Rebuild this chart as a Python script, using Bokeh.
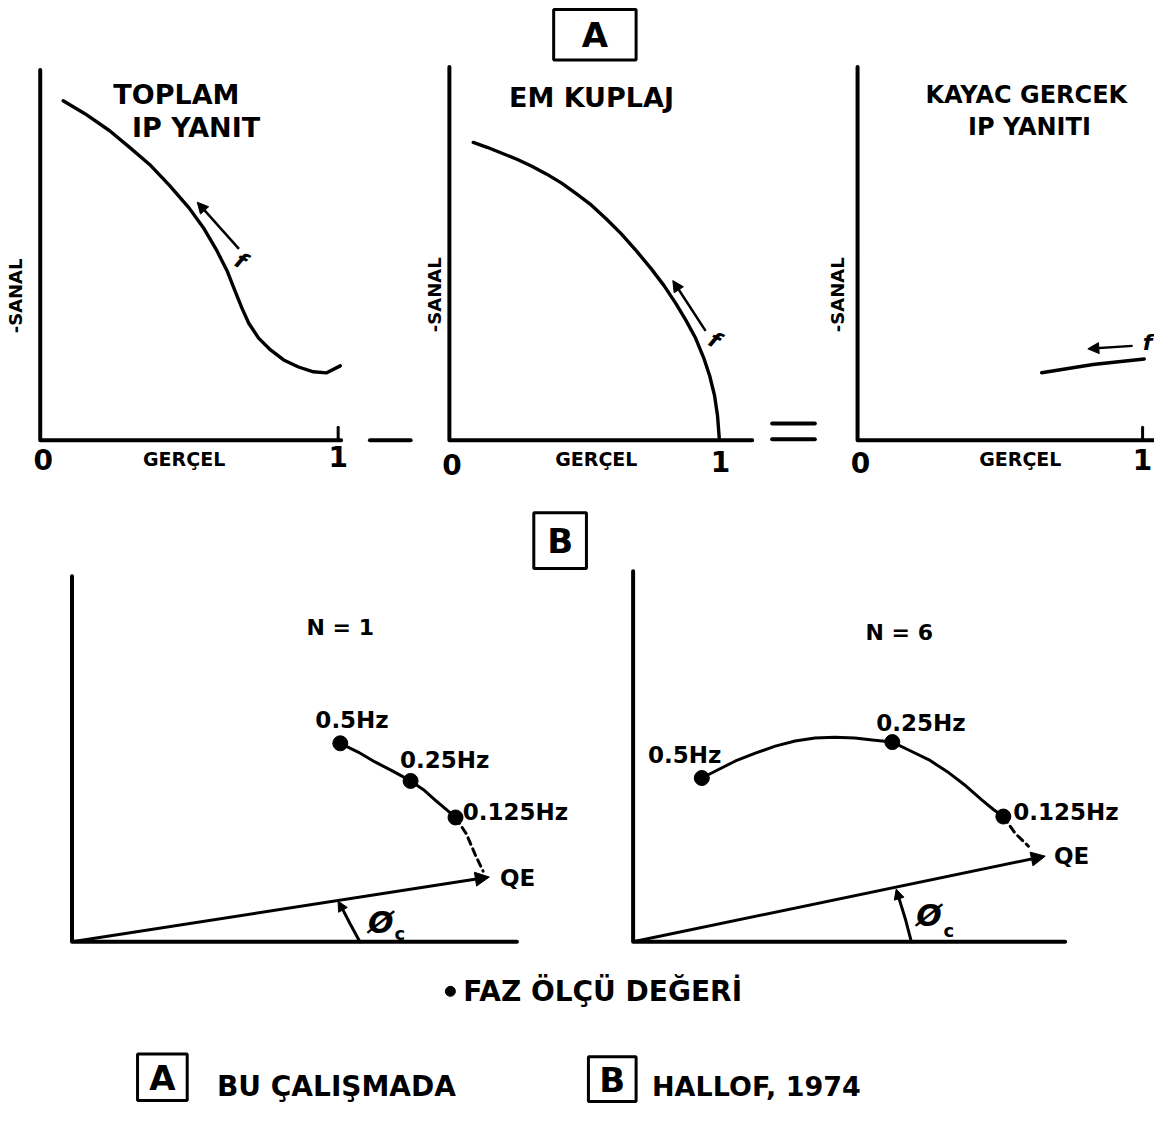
import math
from bokeh.plotting import figure
from bokeh.models import Range1d, Arrow, NormalHead
from bokeh.core.properties import value
from bokeh.embed import file_html
from bokeh.resources import INLINE

FONT = "DejaVu Sans"

# ---------------- data : panel A (x = real part, y = -imaginary part, normalised) ----------------
toplam_re = [0.077, 0.150, 0.233, 0.300, 0.367, 0.433, 0.500, 0.550, 0.593, 0.627, 0.653, 0.677,
             0.700, 0.733, 0.773, 0.817, 0.867, 0.917, 0.960, 1.007]
toplam_im = [0.917, 0.882, 0.836, 0.791, 0.745, 0.689, 0.627, 0.571, 0.512, 0.458, 0.405, 0.357,
             0.316, 0.276, 0.244, 0.217, 0.198, 0.185, 0.182, 0.201]
em_re = [0.088, 0.139, 0.194, 0.249, 0.304, 0.359, 0.414, 0.469, 0.524, 0.579, 0.634, 0.689,
         0.744, 0.791, 0.835, 0.872, 0.908, 0.938, 0.960, 0.978, 0.989, 0.996]
em_im = [0.798, 0.785, 0.769, 0.753, 0.734, 0.713, 0.689, 0.660, 0.630, 0.593, 0.553, 0.508,
         0.460, 0.415, 0.367, 0.322, 0.274, 0.221, 0.173, 0.120, 0.066, 0.000]
kayac_re = [0.646, 0.826, 1.006]
kayac_im = [0.181, 0.203, 0.218]

a_titles = [["TOPLAM", "IP YANIT"], ["EM KUPLAJ"], ["KAYAC GERCEK", "IP YANITI"]]
x_label = "GERÇEL"
y_label = "-SANAL"
x_tick_labels = ["0", "1"]
freq_symbol = "f"

# ---------------- data : panel B (phase measurements) ----------------
freq_labels = ["0.5Hz", "0.25Hz", "0.125Hz"]
n1_re = [0.603, 0.761, 0.862]
n1_im = [0.543, 0.440, 0.340]
n1_path_re = [0.603, 0.643, 0.681, 0.721, 0.761, 0.790, 0.815, 0.839, 0.862]
n1_path_im = [0.543, 0.519, 0.492, 0.467, 0.440, 0.416, 0.389, 0.364, 0.340]
n1_dash_re = [0.862, 0.886, 0.906, 0.924]
n1_dash_im = [0.340, 0.296, 0.239, 0.193]
n1_qe = (0.938, 0.177)

n6_re = [0.159, 0.600, 0.857]
n6_im = [0.442, 0.539, 0.338]
n6_path_re = [0.159, 0.191, 0.237, 0.283, 0.329, 0.375, 0.421, 0.467, 0.513, 0.559, 0.600,
              0.639, 0.685, 0.731, 0.770, 0.807, 0.834, 0.857]
n6_path_im = [0.442, 0.461, 0.488, 0.509, 0.528, 0.542, 0.550, 0.552, 0.550, 0.544, 0.539,
              0.517, 0.491, 0.456, 0.421, 0.383, 0.357, 0.338]
n6_dash_re = [0.857, 0.885, 0.915]
n6_dash_im = [0.338, 0.292, 0.258]
n6_qe = (0.954, 0.231)

b_titles = ["N = 1", "N = 6"]
qe_label = "QE"
phase_symbol = "Ø"
phase_sub = "c"
legend_text = "FAZ ÖLÇÜ DEĞERİ"
source_labels = [("A", "BU ÇALIŞMADA"), ("B", "HALLOF, 1974")]

# ---------------- canvas ----------------
W, H = 1154, 1106
SX, SY = 1162, 1114          # extent of the drawing (reference pixels) mapped onto the canvas
p = figure(width=W, height=H, x_range=Range1d(0, SX), y_range=Range1d(SY, 0),
           output_backend="svg", toolbar_location=None, min_border=0,
           x_axis_location=None, y_axis_location=None)
p.grid.visible = False
p.outline_line_color = None
p.background_fill_color = "white"
p.border_fill_color = "white"

# panel frames : origin (reference px) and unit lengths (px)
frames = {
    "a1": (40, 443, 300, 373),
    "a2": (452, 443, 273, 376),
    "a3": (863, 443, 287, 376),
    "b1": (72, 948, 448, 368),
    "b2": (637, 948, 435, 373),
}
for name, (ox, oy, ux, uy) in frames.items():
    p.extra_x_ranges[name] = Range1d((0 - ox) / ux, (SX - ox) / ux)
    p.extra_y_ranges[name] = Range1d((oy - SY) / uy, (oy - 0) / uy)


def rn(name):
    return {} if name is None else dict(x_range_name=name, y_range_name=name)


def line(xs, ys, name=None, w=3.0, dash="solid"):
    p.line(xs, ys, line_color="black", line_width=w, line_dash=dash,
           line_join="round", line_cap="round", **rn(name))


def txt(x, y, s, size, name=None, align="center", angle=0.0, style="bold"):
    p.text(x=[x], y=[y], text=[s], angle=angle, text_font=value(FONT),
           text_font_style=style, text_font_size=f"{size}px", text_align=align,
           text_baseline="middle", text_color="black", **rn(name))


def arrow(x0, y0, x1, y1, name, w=2.5, size=12):
    p.add_layout(Arrow(end=NormalHead(size=size, fill_color="black", line_color="black", line_width=1),
                       x_start=x0, y_start=y0, x_end=x1, y_end=y1,
                       line_color="black", line_width=w, **rn(name)))


# ---------------- panel A ----------------
a_curves = [("a1", toplam_re, toplam_im), ("a2", em_re, em_im), ("a3", kayac_re, kayac_im)]
a_xaxis_end = {"a1": 1.01, "a2": 1.117, "a3": 1.05}
a_title_pos = {"a1": [(0.457, 0.933), (0.523, 0.845)], "a2": [(0.524, 0.918)],
               "a3": [(0.592, 0.926), (0.603, 0.838)]}
a_title_size = {"a1": 27, "a2": 27, "a3": 24}
a_ylabel_x = {"a1": -0.083, "a2": -0.055, "a3": -0.07}
a_zero_y = {"a1": -0.051, "a2": -0.064, "a3": -0.059}
a_xlabel_x = {"a1": 0.483, "a2": 0.542, "a3": 0.571}
a_arrows = {"a1": ((0.667, 0.517), (0.527, 0.643), (0.673, 0.485), -0.5),
            "a2": ((0.945, 0.293), (0.824, 0.428), (0.978, 0.269), -0.5),
            "a3": ((0.965, 0.253), (0.808, 0.245), (1.017, 0.261), 0.0)}

for i, (name, re, im) in enumerate(a_curves):
    # axes
    line([0, 0, a_xaxis_end[name]], [1.0, 0, 0], name, w=4)
    if name != "a2":
        line([1.0, 1.0], [0, 0.035], name, w=3)
    # response curve
    line(re, im, name, w=3.4)
    # labels
    txt(0.01, a_zero_y[name], x_tick_labels[0], 28, name)
    txt(1.0, a_zero_y[name] + 0.008, x_tick_labels[1], 28, name)
    txt(a_xlabel_x[name], -0.05, x_label, 19, name)
    txt(a_ylabel_x[name], 0.39, y_label, 18, name, angle=math.pi / 2)
    for t, (tx, ty) in zip(a_titles[i], a_title_pos[name]):
        txt(tx, ty, t, a_title_size[name], name)
    (tx0, ty0), (tx1, ty1), (fx, fy), fang = a_arrows[name]
    arrow(tx0, ty0, tx1, ty1, name, w=2.5, size=11)
    txt(fx, fy, freq_symbol, 22, name, angle=fang, style="bold italic")

# operators between panels
line([372, 413], [443, 443], None, w=4)
line([777, 820], [426, 426], None, w=4)
line([777, 820], [442, 442], None, w=4)

# boxes A and B
p.quad(left=[557], right=[640], top=[9], bottom=[60], fill_color=None, line_color="black", line_width=3)
txt(598.5, 35, source_labels[0][0], 34)
p.quad(left=[537], right=[590], top=[516], bottom=[572], fill_color=None, line_color="black", line_width=3)
txt(563.5, 544, source_labels[1][0], 34)

# ---------------- panel B ----------------
b_sets = [
    ("b1", n1_re, n1_im, n1_path_re, n1_path_im, n1_dash_re, n1_dash_im, n1_qe),
    ("b2", n6_re, n6_im, n6_path_re, n6_path_im, n6_dash_re, n6_dash_im, n6_qe),
]
b_title_pos = {"b1": (0.603, 0.859), "b2": (0.616, 0.834)}
b_label_pos = {"b1": [(0.547, 0.606), (0.737, 0.497), (0.878, 0.356)],
               "b2": [(0.0345, 0.504), (0.563, 0.590), (0.880, 0.351)]}
b_qe_label = {"b1": (0.962, 0.174), "b2": (0.974, 0.231)}
b_arc = {"b1": ([0.647, 0.625, 0.609], [0.0, 0.049, 0.087], (0.598, 0.111)),
         "b2": ([0.644, 0.630, 0.616], [0.0, 0.062, 0.115], (0.609, 0.142))}
b_phi = {"b1": ((0.694, 0.052), (0.737, 0.022)), "b2": ((0.685, 0.072), (0.731, 0.030))}

for i, (name, re, im, pre, pim, dre, dim, qe) in enumerate(b_sets):
    line([0, 0, 1.0], [1.0, 0, 0], name, w=4)
    line(pre, pim, name, w=3)
    line(dre, dim, name, w=3, dash="7 5")
    arrow(0.0, 0.0, qe[0], qe[1], name, w=3, size=14)
    p.scatter(re, im, size=15, marker="circle", fill_color="black", line_color="black", **rn(name))
    for lab, (lx, ly) in zip(freq_labels, b_label_pos[name]):
        txt(lx, ly, lab, 23, name, align="left")
    txt(b_title_pos[name][0], b_title_pos[name][1], b_titles[i], 22, name)
    txt(b_qe_label[name][0], b_qe_label[name][1], qe_label, 23, name, align="left")
    axs, ays, (hx, hy) = b_arc[name]
    line(axs, ays, name, w=3)
    arrow(axs[-1], ays[-1], hx, hy, name, w=3, size=10)
    (px_, py_), (cx_, cy_) = b_phi[name]
    txt(px_, py_, phase_symbol, 30, name, style="bold italic")
    txt(cx_, cy_, phase_sub, 18, name)

# ---------------- legend / sources ----------------
p.scatter([453], [998], size=10, marker="circle", fill_color="black", line_color="black")
txt(466, 998, legend_text, 28, None, align="left")

p.quad(left=[138], right=[188], top=[1061], bottom=[1108], fill_color=None, line_color="black", line_width=3)
txt(163, 1085, source_labels[0][0], 34)
txt(218, 1094, source_labels[0][1], 28, None, align="left")

p.quad(left=[592], right=[640], top=[1064], bottom=[1109], fill_color=None, line_color="black", line_width=3)
txt(616, 1087, source_labels[1][0], 34)
txt(656, 1094, source_labels[1][1], 27, None, align="left")

open("out.html", "w").write(file_html(p, INLINE))
